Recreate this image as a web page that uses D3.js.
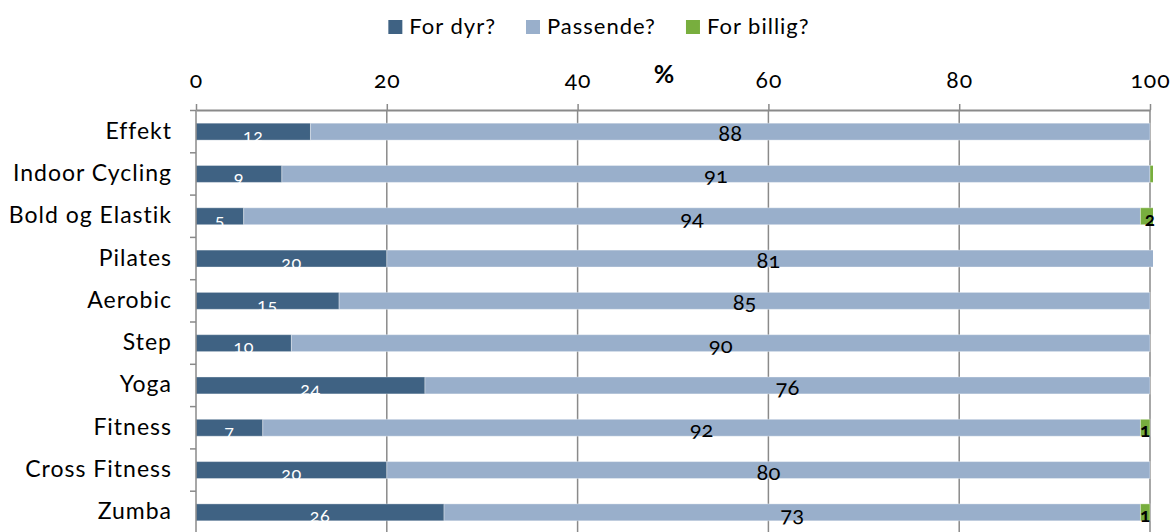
<!DOCTYPE html>
<html>
<head>
<meta charset="utf-8">
<script src="https://cdn.jsdelivr.net/npm/d3@7"></script>
<style>
  body { margin: 0; background: #fff; }
  svg text { font-family: Lato, "Open Sans", sans-serif; font-variant-numeric: oldstyle-nums; }
</style>
</head>
<body>
<svg id="chart"></svg>
<script>
const categories = ["Effekt", "Indoor Cycling", "Bold og Elastik", "Pilates", "Aerobic",
    "Step", "Yoga", "Fitness", "Cross Fitness", "Zumba"]
const forDyr = [12, 9, 5, 20, 15, 10, 24, 7, 20, 26]
const passende = [88, 91, 94, 81, 85, 90, 76, 92, 80, 73]
const forBillig = [0, 0.4, 2, 0, 0, 0, 0, 1, 0, 1]
const seriesNames = ["For dyr?", "Passende?", "For billig?"]
const xTicks = [0, 20, 40, 60, 80, 100]

const colors = ["#3F6283", "#99AFCB", "#78AE3E"]

const width = 1173, height = 532
const marginTop = 110, marginLeft = 196, marginRight = 23

const svg = d3.select("#chart")
    .attr("width", width)
    .attr("height", height)
    .attr("viewBox", [0, 0, width, height])

const x = d3.scaleLinear([0, 100], [marginLeft, width - marginRight])
const y = d3.scaleBand(categories, [marginTop + 0.5, marginTop + 0.5 + 423])
    .paddingInner(0.6)
    .paddingOuter(0.3)

// stack the three series
const rows = categories.map((c, i) => ({cat: c, v: [forDyr[i], passende[i], forBillig[i]]}))
const stack = d3.stack()
    .keys([0, 1, 2])
    .value((d, k) => d.v[k])(rows)

// clip the bars a little to the right of 100
svg.append("clipPath").attr("id", "plot")
    .append("rect")
    .attr("x", marginLeft).attr("y", 0)
    .attr("width", x(100) - marginLeft + 3).attr("height", height)

// gridlines
svg.append("g")
    .selectAll("line")
    .data(xTicks.slice(1))
    .join("line")
    .attr("x1", d => x(d)).attr("x2", d => x(d))
    .attr("y1", marginTop).attr("y2", height)
    .attr("stroke", "#8a8a8a")
    .attr("stroke-width", 1.5)

// bars
svg.append("g")
    .attr("clip-path", "url(#plot)")
    .selectAll("g")
    .data(stack)
    .join("g")
    .attr("fill", (s, k) => colors[k])
    .selectAll("rect")
    .data(s => s)
    .join("rect")
    .attr("x", d => x(d[0]))
    .attr("y", d => y(d.data.cat))
    .attr("width", d => x(d[1]) - x(d[0]))
    .attr("height", y.bandwidth())
    .attr("stroke", "#ffffff")
    .attr("stroke-opacity", 0.35)
    .attr("stroke-width", 1)

// labels: white for For dyr?, black for the rest
const fmt = d3.format(".0f")
svg.append("g")
    .selectAll("text")
    .data(stack.flatMap((s, k) => s.map(d => ({d, k}))).filter(o => Math.round(o.d.data.v[o.k]) >= 1))
    .join("text")
    .attr("x", o => x((o.d[0] + Math.min(o.d[1], o.k == 2 ? 101 : 100)) / 2))
    .attr("y", o => y(o.d.data.cat) + y.bandwidth() / 2 + (o.k == 0 ? 10 : 9.5))
    .attr("text-anchor", "middle")
    .attr("fill", o => o.k == 0 ? "#ffffff" : "#000000")
    .style("font-size", o => o.k == 0 ? "18px" : o.k == 1 ? "22px" : "19px")
    .style("letter-spacing", o => o.k == 0 ? "0.5px" : "0px")
    .style("font-weight", o => o.k == 2 ? 700 : 400)
    .text(o => fmt(o.d.data.v[o.k]))

// top axis
svg.append("g")
    .attr("transform", `translate(0,${marginTop})`)
    .call(d3.axisTop(x).tickValues(xTicks).tickSize(6).tickPadding(16).tickSizeOuter(0))
    .call(g => g.select(".domain").attr("stroke", "#8a8a8a").attr("stroke-width", 2))
    .call(g => g.selectAll(".tick line").attr("stroke", "#8a8a8a").attr("stroke-width", 1.5))
    .call(g => g.selectAll(".tick text")
        .attr("fill", "#000")
        .style("font-size", "23px")
        .style("letter-spacing", "1px")
        .style("font-family", "Lato, sans-serif"))

svg.append("text")
    .attr("x", 664).attr("y", 83)
    .attr("text-anchor", "middle")
    .style("font-size", "25px")
    .style("font-weight", 700)
    .text("%")

// left axis with ticks between categories
const leftAxis = svg.append("g")
leftAxis.append("line")
    .attr("x1", marginLeft).attr("x2", marginLeft)
    .attr("y1", marginTop).attr("y2", height)
    .attr("stroke", "#8a8a8a").attr("stroke-width", 1.5)
const step = y.step()
leftAxis.selectAll(".tk")
    .data(categories)
    .join("line")
    .attr("class", "tk")
    .attr("x1", marginLeft - 6).attr("x2", marginLeft)
    .attr("y1", d => y(d) - step * 0.3)
    .attr("y2", d => y(d) - step * 0.3)
    .attr("stroke", "#8a8a8a").attr("stroke-width", 1.5)
leftAxis.selectAll(".lbl")
    .data(categories)
    .join("text")
    .attr("class", "lbl")
    .attr("x", 172)
    .attr("y", d => y(d) + y.bandwidth() / 2 + 7)
    .attr("text-anchor", "end")
    .style("font-size", "23px")
    .style("letter-spacing", "1px")
    .text(d => d)

// legend
const legend = svg.append("g")
let lx = 0
seriesNames.forEach((name, k) => {
    const g = legend.append("g")
    g.append("rect").attr("y", -14).attr("width", 14).attr("height", 14).attr("fill", colors[k])
    const t = g.append("text").attr("x", 21)
        .style("font-size", "22px")
        .style("letter-spacing", "1px")
        .text(name)
    const w = 21 + t.node().getComputedTextLength()
    g.attr("transform", `translate(${lx},0)`)
    lx += w + 30
})
const legendWidth = lx - 30
legend.attr("transform", `translate(${599 - legendWidth / 2},34)`)
</script>
</body>
</html>
